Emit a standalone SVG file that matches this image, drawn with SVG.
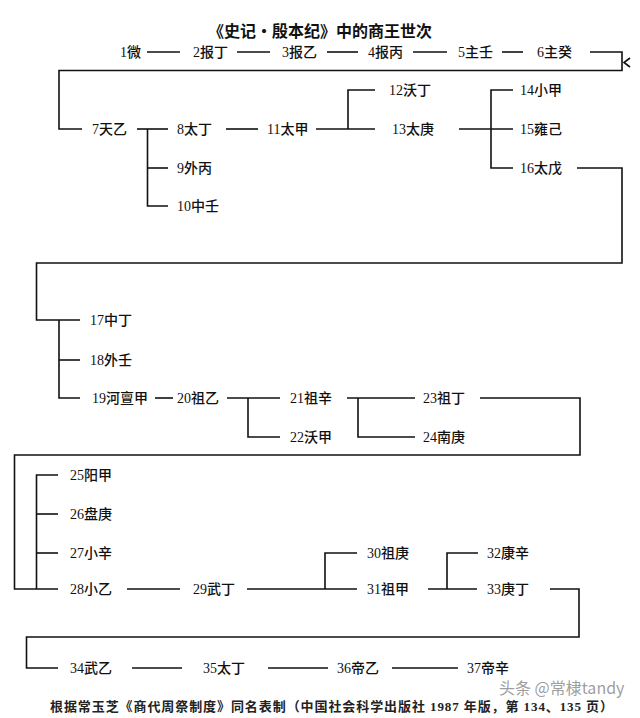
<svg xmlns="http://www.w3.org/2000/svg" width="640" height="718" viewBox="0 0 640 718">
<style>
  .bg { fill: #ffffff; }
  .lbl { font-family: "Liberation Serif", "Noto Sans CJK SC", serif; font-size: 14px; fill: #111111; font-weight: 500; }
  .title { font-family: "Noto Sans CJK SC", sans-serif; font-size: 16px; font-weight: bold; fill: #111111; }
  .foot { font-family: "Liberation Serif", "Noto Sans CJK SC", serif; font-size: 13px; font-weight: bold; fill: #222222; }
  .wm { font-family: "Noto Sans CJK SC", sans-serif; font-size: 16px; fill: #8c8c8c; fill-opacity: 0.85; }
  .ln { fill: none; stroke: #111111; stroke-width: 1.6; stroke-linejoin: miter; }
</style>
<rect class="bg" x="0" y="0" width="640" height="718"/>

<text class="title" x="320" y="37" text-anchor="middle">《史记·殷本纪》中的商王世次</text>

<g id="connectors">
  <path class="ln" d="M147 52 H180"/>
  <path class="ln" d="M237 52 H270"/>
  <path class="ln" d="M327 52 H358"/>
  <path class="ln" d="M413 52 H447"/>
  <path class="ln" d="M502 52 H523"/>
  <path class="ln" d="M590 52 H622 V70.5 H59 V129 H82"/>
  <path class="ln" d="M630 58 L624 62.5 L630 67"/>
  <path class="ln" d="M137 129 H168"/>
  <path class="ln" d="M147.5 129 V206 H168"/>
  <path class="ln" d="M147.5 168 H168"/>
  <path class="ln" d="M226 129 H258"/>
  <path class="ln" d="M316 129 H375"/>
  <path class="ln" d="M348 129 V90 H375"/>
  <path class="ln" d="M459 129 H513"/>
  <path class="ln" d="M513 90 H491 V168 H513"/>
  <path class="ln" d="M577 168 H622 V263 H36.5 V320 H80"/>
  <path class="ln" d="M59 320 V398 H80"/>
  <path class="ln" d="M59 360 H80"/>
  <path class="ln" d="M155 398 H173"/>
  <path class="ln" d="M227 398 H280"/>
  <path class="ln" d="M248 398 V437 H280"/>
  <path class="ln" d="M347 398 H415"/>
  <path class="ln" d="M358 398 V437 H415"/>
  <path class="ln" d="M480 398 H580 V455 H14.5 V589 H58"/>
  <path class="ln" d="M58 475 H36.5 V589"/>
  <path class="ln" d="M36.5 514 H58"/>
  <path class="ln" d="M36.5 553 H58"/>
  <path class="ln" d="M127 589 H180"/>
  <path class="ln" d="M247 589 H357"/>
  <path class="ln" d="M325 589 V553 H357"/>
  <path class="ln" d="M428 589 H477"/>
  <path class="ln" d="M447 589 V553 H478"/>
  <path class="ln" d="M550 589 H579 V637 H26.5 V668 H58"/>
  <path class="ln" d="M132 668 H182"/>
  <path class="ln" d="M268 668 H328"/>
  <path class="ln" d="M392 668 H458"/>
</g>

<g id="n1"><text class="lbl" x="120" y="57">1微</text></g>
<g id="n2"><text class="lbl" x="193" y="57">2报丁</text></g>
<g id="n3"><text class="lbl" x="282" y="57">3报乙</text></g>
<g id="n4"><text class="lbl" x="368" y="57">4报丙</text></g>
<g id="n5"><text class="lbl" x="458" y="57">5主壬</text></g>
<g id="n6"><text class="lbl" x="537" y="57">6主癸</text></g>
<g id="n7"><text class="lbl" x="92" y="134">7天乙</text></g>
<g id="n8"><text class="lbl" x="177" y="134">8太丁</text></g>
<g id="n9"><text class="lbl" x="177" y="173">9外丙</text></g>
<g id="n10"><text class="lbl" x="177" y="211">10中壬</text></g>
<g id="n11"><text class="lbl" x="267" y="134">11太甲</text></g>
<g id="n12"><text class="lbl" x="389" y="95">12沃丁</text></g>
<g id="n13"><text class="lbl" x="392" y="134">13太庚</text></g>
<g id="n14"><text class="lbl" x="520" y="95">14小甲</text></g>
<g id="n15"><text class="lbl" x="520" y="134">15雍己</text></g>
<g id="n16"><text class="lbl" x="520" y="173">16太戊</text></g>
<g id="n17"><text class="lbl" x="90" y="325">17中丁</text></g>
<g id="n18"><text class="lbl" x="90" y="365">18外壬</text></g>
<g id="n19"><text class="lbl" x="92" y="403">19河亶甲</text></g>
<g id="n20"><text class="lbl" x="177" y="403">20祖乙</text></g>
<g id="n21"><text class="lbl" x="290" y="403">21祖辛</text></g>
<g id="n22"><text class="lbl" x="290" y="442">22沃甲</text></g>
<g id="n23"><text class="lbl" x="423" y="403">23祖丁</text></g>
<g id="n24"><text class="lbl" x="423" y="442">24南庚</text></g>
<g id="n25"><text class="lbl" x="70" y="480">25阳甲</text></g>
<g id="n26"><text class="lbl" x="70" y="519">26盘庚</text></g>
<g id="n27"><text class="lbl" x="70" y="558">27小辛</text></g>
<g id="n28"><text class="lbl" x="70" y="594">28小乙</text></g>
<g id="n29"><text class="lbl" x="193" y="594">29武丁</text></g>
<g id="n30"><text class="lbl" x="367" y="558">30祖庚</text></g>
<g id="n31"><text class="lbl" x="367" y="594">31祖甲</text></g>
<g id="n32"><text class="lbl" x="487" y="558">32康辛</text></g>
<g id="n33"><text class="lbl" x="487" y="594">33庚丁</text></g>
<g id="n34"><text class="lbl" x="70" y="673">34武乙</text></g>
<g id="n35"><text class="lbl" x="203" y="673">35太丁</text></g>
<g id="n36"><text class="lbl" x="337" y="673">36帝乙</text></g>
<g id="n37"><text class="lbl" x="467" y="673">37帝辛</text></g>

<text class="foot" x="50" y="711" textLength="563" lengthAdjust="spacing">根据常玉芝《商代周祭制度》同名表制（中国社会科学出版社 1987 年版，第 134、135 页）</text>
<text class="wm" x="499" y="694">头条 @常棣tandy</text>
</svg>
